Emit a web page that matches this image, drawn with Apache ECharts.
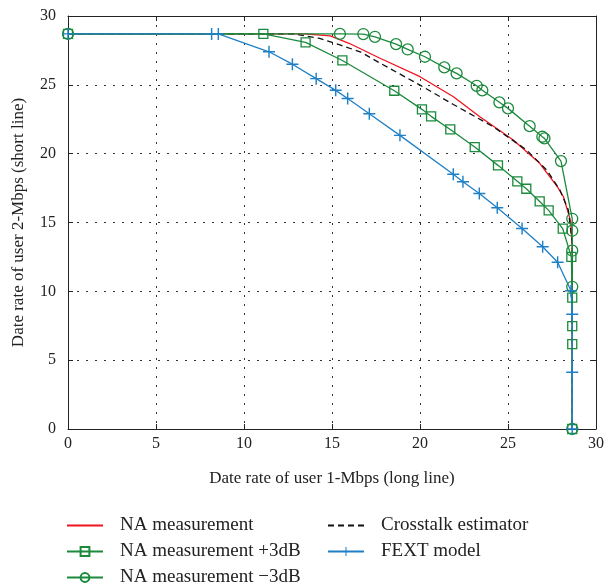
<!DOCTYPE html>
<html>
<head>
<meta charset="utf-8">
<script src="https://cdn.jsdelivr.net/npm/echarts@6/dist/echarts.min.js"></script>
<style>
html,body{margin:0;padding:0;background:#fff;}
#chart{width:607px;height:588px;}
</style>
</head>
<body>
<div id="chart"></div>
<script>
// values
var naX = [0, 13.4, 14.9, 16.0, 17.7, 20.0, 21.9, 23.4, 25.3, 26.8, 27.8, 28.15, 28.57, 28.65, 28.65];
var naY = [28.7, 28.7, 28.56, 28.0, 26.95, 25.59, 24.13, 22.68, 20.99, 19.3, 17.6, 16.87, 15.06, 13.0, 0];

var xtX = [0, 12.8, 14.3, 15.45, 16.6, 17.7, 20.0, 21.9, 24.17, 26.06, 27.2, 27.95, 28.43, 28.65, 28.65];
var xtY = [28.7, 28.7, 28.37, 27.9, 27.4, 26.6, 24.98, 23.57, 21.95, 20.26, 18.81, 17.36, 15.9, 13.5, 0];

var plusX = [0, 11.1, 13.5, 15.59, 18.54, 20.11, 20.63, 21.72, 23.11, 24.43, 25.53, 26.04, 26.80, 27.31, 28.11, 28.6, 28.65, 28.65, 28.65, 28.65];
var plusY = [28.7, 28.7, 28.08, 26.77, 24.57, 23.22, 22.71, 21.76, 20.48, 19.15, 17.99, 17.45, 16.53, 15.88, 14.55, 12.5, 9.54, 7.48, 6.17, 0];

var minusX = [0, 15.45, 16.78, 17.44, 18.64, 19.30, 20.28, 21.38, 22.08, 23.22, 23.54, 24.51, 25.0, 26.23, 26.95, 27.07, 28.01, 28.65, 28.65, 28.65, 28.65, 28.65];
var minusY = [28.7, 28.7, 28.69, 28.49, 27.96, 27.57, 27.04, 26.27, 25.83, 24.93, 24.60, 23.73, 23.29, 22.0, 21.23, 21.11, 19.46, 15.27, 14.4, 12.95, 10.33, 0];

var fextX = [0, 8.16, 8.54, 11.42, 12.75, 14.1, 15.21, 15.89, 17.12, 18.86, 21.89, 22.44, 23.37, 24.39, 25.8, 26.97, 27.82, 28.58, 28.65, 28.65, 28.65];
var fextY = [28.7, 28.7, 28.7, 27.4, 26.5, 25.45, 24.6, 24.01, 22.9, 21.33, 18.5, 17.96, 17.11, 16.07, 14.57, 13.24, 12.11, 10.04, 8.33, 4.12, 0];

var ticks = [0, 5, 10, 15, 20, 25, 30];

var legendLeft = ['NA measurement', 'NA measurement +3dB', 'NA measurement \u22123dB'];
var legendRight = ['Crosstalk estimator', 'FEXT model'];
var noMarker = ['NA measurement', 'Crosstalk estimator'];//这两条线图例里不画点

function pairs(xs, ys){
	var out = [];
	for(var i=0;i<xs.length;i++) out.push([xs[i], ys[i]]);
	return out;
}
function legendItems(names){
	var out = [];
	for(var i=0;i<names.length;i++){
		if(noMarker.indexOf(names[i])>=0) out.push({name: names[i], itemStyle: {opacity: 0}});
		else out.push({name: names[i]});
	}
	return out;
}

var FONT = 'Liberation Serif';
var RED = '#f0141e', GREEN = '#1b8a3c', BLUE = '#1f80c8';
var plusPath = 'path://M0,4.4 H4.4 V0 H5.6 V4.4 H10 V5.6 H5.6 V10 H4.4 V5.6 H0 Z';

function axisBase(pos, showLabel){
	return {
		type: 'value', position: pos, min: ticks[0], max: ticks[ticks.length-1], interval: 5,
		axisLine: {show: true, onZero: false, lineStyle: {color: '#222', width: 1}},
		axisTick: {show: true, inside: true, length: 5, lineStyle: {color: '#222'}},
		axisLabel: {show: showLabel, color: '#222', fontFamily: FONT, fontSize: 16},
		splitLine: {show: false}
	};
}

var xMain = axisBase('bottom', true);
xMain.axisLabel.margin = 7;
xMain.name = 'Date rate of user 1-Mbps (long line)';
xMain.nameLocation = 'middle';
xMain.nameGap = 41;
xMain.nameTextStyle = {fontFamily: FONT, fontSize: 17, color: '#222'};
xMain.splitLine = {show: true, lineStyle: {color: '#333', type: [2, 7], width: 1}};

var yMain = axisBase('left', true);
yMain.axisLabel.margin = 12;
yMain.name = 'Date rate of user 2-Mbps (short line)';
yMain.nameLocation = 'middle';
yMain.nameGap = 41;
yMain.nameTextStyle = {fontFamily: FONT, fontSize: 17, color: '#222'};
yMain.splitLine = {show: true, lineStyle: {color: '#333', type: [2, 7], width: 1}};

var legendText = {fontFamily: FONT, fontSize: 19, color: '#222', padding: [0, 0, 0, 12]};

var option = {
	backgroundColor: '#fff',
	animation: false,
	grid: {left: 68, right: 11, top: 16, bottom: 159},
	xAxis: [xMain, axisBase('top', false)],
	yAxis: [yMain, axisBase('right', false)],
	legend: [
		{orient: 'vertical', left: 66, top: 516, padding: 0, height: 72, itemWidth: 36, itemHeight: 11, itemGap: 7,
			data: legendItems(legendLeft), textStyle: legendText, selectedMode: false},
		{orient: 'vertical', left: 327, top: 516, padding: 0, height: 72, itemWidth: 36, itemHeight: 11, itemGap: 7,
			data: legendItems(legendRight), textStyle: legendText, selectedMode: false}
	],
	series: [
		{name: 'NA measurement', type: 'line', data: pairs(naX, naY), symbol: 'none',
			lineStyle: {color: RED, width: 1.3}, itemStyle: {color: RED}},
		{name: 'Crosstalk estimator', type: 'line', data: pairs(xtX, xtY), symbol: 'none',
			lineStyle: {color: '#111', width: 1.3, type: [6, 4]}, itemStyle: {color: '#111'}},
		{name: 'NA measurement +3dB', type: 'line', data: pairs(plusX, plusY), symbol: 'rect', symbolSize: 9,
			lineStyle: {color: GREEN, width: 1.3},
			itemStyle: {color: 'rgba(0,0,0,0)', borderColor: GREEN, borderWidth: 1.3}},
		{name: 'NA measurement \u22123dB', type: 'line', data: pairs(minusX, minusY), symbol: 'circle', symbolSize: 11,
			lineStyle: {color: GREEN, width: 1.3},
			itemStyle: {color: 'rgba(0,0,0,0)', borderColor: GREEN, borderWidth: 1.3}},
		{name: 'FEXT model', type: 'line', data: pairs(fextX, fextY), symbol: plusPath, symbolSize: 12,
			lineStyle: {color: BLUE, width: 1.3}, itemStyle: {color: BLUE}}
	]
};

var myChart = echarts.init(document.getElementById('chart'));
myChart.setOption(option);
</script>
</body>
</html>
